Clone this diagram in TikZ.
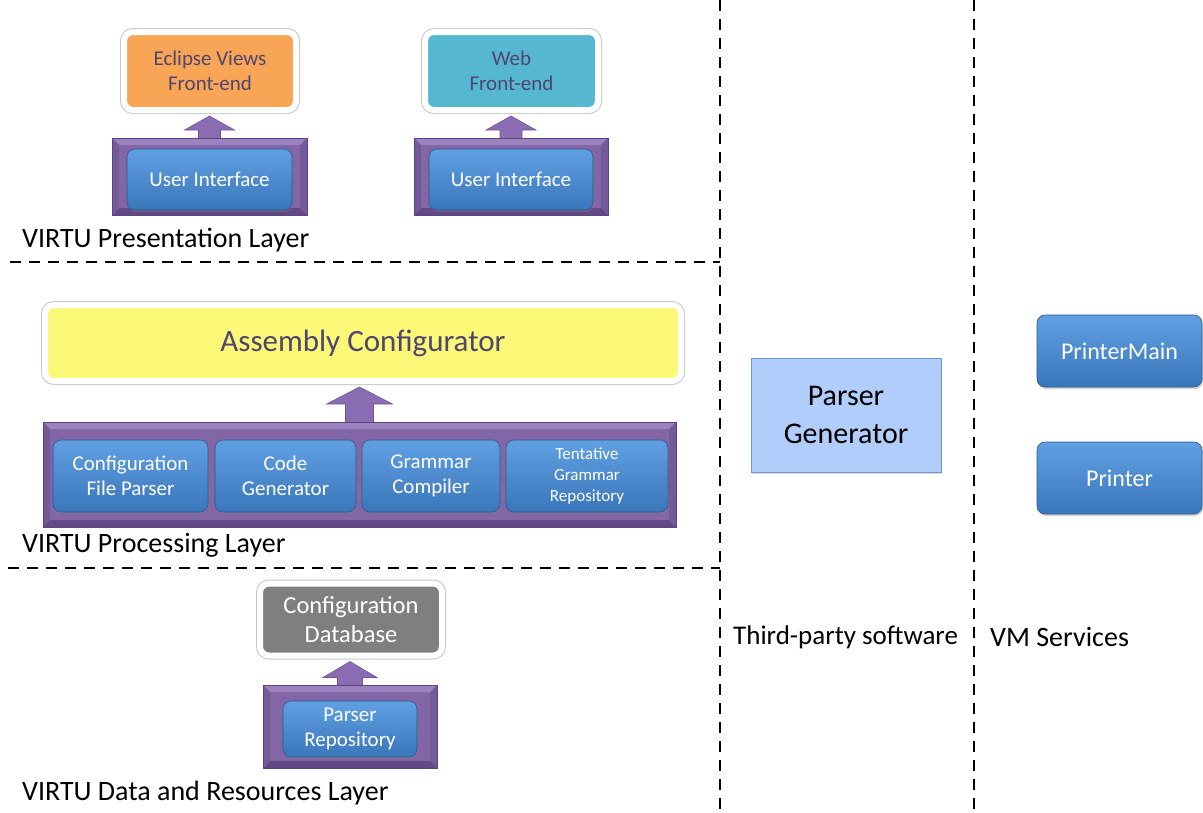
\documentclass[tikz,border=0pt]{standalone}
\usepackage{fontspec}
\setmainfont{Carlito}
\usetikzlibrary{calc,shadows}

\definecolor{txtpurple}{RGB}{80,68,112}
\definecolor{orangefe}{RGB}{248,166,86}
\definecolor{tealfe}{RGB}{86,184,208}
\definecolor{yellowac}{RGB}{250,248,118}
\definecolor{graydb}{RGB}{127,127,127}
\definecolor{pface}{RGB}{130,102,166}
\definecolor{plight}{RGB}{156,130,192}
\definecolor{pdark}{RGB}{98,72,132}
\definecolor{pside}{RGB}{116,90,152}
\definecolor{pedge}{RGB}{92,68,124}
\definecolor{bluetop}{RGB}{96,160,226}
\definecolor{bluebot}{RGB}{58,118,186}
\definecolor{blueedge}{RGB}{44,88,140}
\definecolor{pgfill}{RGB}{176,205,251}
\definecolor{pgedge}{RGB}{108,152,210}
\definecolor{arrowfill}{RGB}{138,108,178}
\definecolor{arrowedge}{RGB}{112,86,150}

\tikzset{
  frontbox/.style={rounded corners=9pt, minimum width=#1, draw=white, line width=6pt,
    preaction={draw=black!22, line width=8pt}, text=txtpurple, align=center, inner sep=0pt},
  purpleframe/.style={draw=pedge, line width=0.8pt, fill=pface, inner sep=0pt,
    path picture={
      \fill[plight] (path picture bounding box.north west) -- (path picture bounding box.north east)
        -- ([xshift=-7pt,yshift=-7pt]path picture bounding box.north east)
        -- ([xshift=7pt,yshift=-7pt]path picture bounding box.north west) -- cycle;
      \fill[pdark] (path picture bounding box.south west) -- (path picture bounding box.south east)
        -- ([xshift=-7pt,yshift=7pt]path picture bounding box.south east)
        -- ([xshift=7pt,yshift=7pt]path picture bounding box.south west) -- cycle;
      \fill[pside] (path picture bounding box.north west) -- ([xshift=7pt,yshift=-7pt]path picture bounding box.north west)
        -- ([xshift=7pt,yshift=7pt]path picture bounding box.south west) -- (path picture bounding box.south west) -- cycle;
      \fill[pside] (path picture bounding box.north east) -- ([xshift=-7pt,yshift=-7pt]path picture bounding box.north east)
        -- ([xshift=-7pt,yshift=7pt]path picture bounding box.south east) -- (path picture bounding box.south east) -- cycle;
    }},
  bluebox/.style={rounded corners=8pt, draw=blueedge, line width=0.6pt,
    top color=bluetop, bottom color=bluebot, text=white, align=center, inner sep=0pt,
    drop shadow={shadow xshift=1pt, shadow yshift=-2pt, opacity=0.35}},
  layerlabel/.style={anchor=west, inner sep=0pt, font=\fontsize{28}{32}\selectfont},
  divider/.style={draw=black, line width=2.8pt, dash pattern=on 11pt off 8pt}
}

% upward block arrow from the top of one node to the bottom of another
% #1 base node, #2 target node, #3 shaft half width, #4 head half width, #5 head length
\newcommand\liftarrow[5]{%
  \filldraw[fill=arrowfill, draw=arrowedge, line width=0.6pt]
    let \p1=(#1.north), \p2=(#2.south) in
    (\x1-#3pt,\y1) -- (\x1-#3pt,\y2-3pt-#5pt) -- (\x1-#4pt,\y2-3pt-#5pt) -- (\x1,\y2-3pt)
    -- (\x1+#4pt,\y2-3pt-#5pt) -- (\x1+#3pt,\y2-3pt-#5pt) -- (\x1+#3pt,\y1) -- cycle;}

\begin{document}
\begin{tikzpicture}[x=1pt,y=-1pt]
\useasboundingbox (0,0) rectangle (1203,812);

% ---- dividers ----
\coordinate (va1) at (720,0);   \coordinate (va2) at (720,812);
\coordinate (vb1) at (974,0);   \coordinate (vb2) at (974,812);
\coordinate (ha1) at (10,262);  \coordinate (ha2) at (720,262);
\coordinate (hb1) at (8,568);   \coordinate (hb2) at (720,568);
\draw[divider] (va1) -- (va2);
\draw[divider] (vb1) -- (vb2);
\draw[divider] (ha1) -- (ha2);
\draw[divider] (hb1) -- (hb2);

% ---- presentation layer ----
\node[frontbox=172pt, fill=orangefe, minimum height=78pt, font=\fontsize{21}{25}\selectfont]
  (eclipse) at (210,71) {Eclipse Views\\Front-end};
\node[frontbox=173pt, fill=tealfe, minimum height=78pt, font=\fontsize{21}{25}\selectfont]
  (web) at (511.5,71) {Web\\Front-end};

\node[purpleframe, minimum width=195pt, minimum height=77pt] (pf1) at (209.5,176.5) {};
\node[purpleframe, minimum width=194pt, minimum height=77pt] (pf2) at (511,176.5) {};
\liftarrow{pf1}{eclipse}{11}{25}{14}
\liftarrow{pf2}{web}{11}{25}{14}
\node[bluebox, minimum width=165pt, minimum height=61pt, font=\fontsize{21}{25}\selectfont]
  (ui1) at (209.5,179.5) {User Interface};
\node[bluebox, minimum width=164pt, minimum height=61pt, font=\fontsize{21}{25}\selectfont]
  (ui2) at (511,179.5) {User Interface};

\node[layerlabel] (lpres) at (22,240) {VIRTU Presentation Layer};

% ---- processing layer ----
\node[frontbox=636pt, fill=yellowac, minimum height=76pt, font=\fontsize{31}{36}\selectfont]
  (asm) at (363,343) {Assembly Configurator};
\node[purpleframe, minimum width=633pt, minimum height=105pt] (pf3) at (359.5,474.5) {};
\liftarrow{pf3}{asm}{14}{33}{17}
\node[bluebox, minimum width=155pt, minimum height=72pt, font=\fontsize{21}{25}\selectfont]
  (cfp) at (130.5,476) {Configuration\\File Parser};
\node[bluebox, minimum width=141pt, minimum height=72pt, font=\fontsize{21}{25}\selectfont]
  (cg) at (285.5,476) {Code\\Generator};
\node[bluebox, minimum width=138pt, minimum height=72pt, font=\fontsize{21}{25}\selectfont]
  (gc) at (431,476) {Grammar\\Compiler};
\node[bluebox, minimum width=162pt, minimum height=72pt, font=\fontsize{17}{21}\selectfont]
  (tgr) at (587,476) {Tentative\\Grammar\\Repository};

\node[layerlabel] (lproc) at (22,545) {VIRTU Processing Layer};

% ---- data and resources layer ----
\node[frontbox=182pt, fill=graydb, text=white, minimum height=72pt, font=\fontsize{24.5}{29}\selectfont]
  (cdb) at (351,619.5) {Configuration\\Database};
\node[purpleframe, minimum width=174pt, minimum height=83pt] (pf4) at (350,726.5) {};
\liftarrow{pf4}{cdb}{12.5}{27}{16}
\node[bluebox, minimum width=134pt, minimum height=56pt, font=\fontsize{21}{25}\selectfont]
  (prep) at (350,729) {Parser\\Repository};

\node[layerlabel] (ldata) at (22,793) {VIRTU Data and Resources Layer};

% ---- third-party software ----
\node[draw=pgedge, fill=pgfill, line width=1pt, minimum width=190pt, minimum height=114pt,
  align=center, inner sep=0pt, font=\fontsize{30}{38}\selectfont,
  drop shadow={shadow xshift=1pt, shadow yshift=-1.5pt, opacity=0.25}]
  (pgen) at (846,415) {Parser\\Generator};
\node[layerlabel, font=\fontsize{27}{32}\selectfont] (lthird) at (733,637) {Third-party software};

% ---- VM services ----
\node[bluebox, minimum width=165pt, minimum height=72pt, font=\fontsize{24}{28}\selectfont]
  (pmain) at (1119.5,351) {PrinterMain};
\node[bluebox, minimum width=165pt, minimum height=72pt, font=\fontsize{24}{28}\selectfont]
  (printer) at (1119.5,478) {Printer};
\node[layerlabel] (lvm) at (990,637) {VM Services};
\end{tikzpicture}
\end{document}
